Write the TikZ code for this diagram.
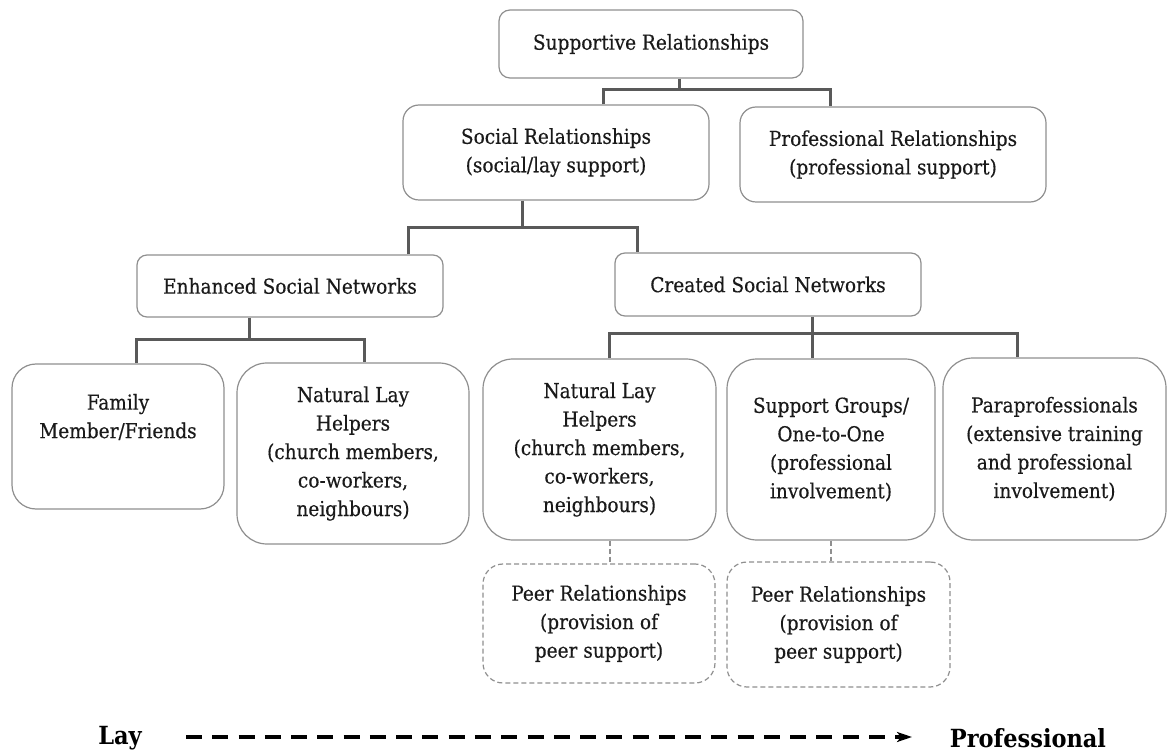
\documentclass[tikz,border=0pt]{standalone}
\usepackage{fontspec}
\newfontfamily\bodyfamily{DejaVu Serif Condensed}[FakeBold=0.35]
\newfontfamily\bottomfamily{DejaVu Serif Condensed Bold}
\usetikzlibrary{arrows.meta}
\definecolor{boxgray}{HTML}{8F8F8F}
\definecolor{conncol}{HTML}{595959}
\definecolor{txtcol}{HTML}{1A1A1A}
\newcommand\bodyfont{\bodyfamily\fontsize{20.6pt}{28.5pt}\selectfont}
\newcommand\bottomfont{\bottomfamily\fontsize{25pt}{28pt}\selectfont}
\begin{document}
\begin{tikzpicture}[x=1pt,y=-1pt,
  box/.style={draw=boxgray, line width=1.2pt, rounded corners=#1, inner sep=0pt, align=center, text=txtcol, font=\bodyfont},
  box/.default=12pt,
  dbox/.style={box=#1, dash pattern=on 5pt off 3pt},
  txt/.style={align=center, text=txtcol, font=\bodyfont, inner sep=0pt},
  conn/.style={draw=conncol, line width=3pt},
  dconn/.style={draw=boxgray, line width=1.2pt, dash pattern=on 5pt off 3pt},
  scale arrow/.style={black, line width=4pt, dash pattern=on 16pt off 10.27pt, -{Stealth[length=15pt,width=10pt,inset=4pt]}},
]
\useasboundingbox (0,0) rectangle (1168,751);

\node[box=11pt, minimum width=304pt, minimum height=68pt] (sup) at (651,44) {Supportive Relationships};
\node[box=16pt, minimum width=306pt, minimum height=95pt] (soc) at (556,152.5) {Social Relationships\\(social/lay support)};
\node[box=16pt, minimum width=306pt, minimum height=95pt] (pro) at (893,154.5) {Professional Relationships\\(professional support)};
\node[box=10pt, minimum width=306pt, minimum height=62pt] (enh) at (290,286) {Enhanced Social Networks};
\node[box=10pt, minimum width=306pt, minimum height=63pt] (cre) at (768,284.5) {Created Social Networks};
\node[box=24pt, minimum width=212pt, minimum height=145pt] (fam) at (118,436.5) {};
\node[txt] (famtxt) at (118,417) {Family\\Member/Friends};
\node[box=30pt, minimum width=232pt, minimum height=181pt] (nl1) at (353,453.5) {Natural Lay\\Helpers\\(church members,\\co-workers,\\neighbours)};
\node[box=30pt, minimum width=233pt, minimum height=181pt] (nl2) at (599.5,449.5) {Natural Lay\\Helpers\\(church members,\\co-workers,\\neighbours)};
\node[box=30pt, minimum width=208pt, minimum height=181pt] (sg) at (831,449.5) {Support Groups/\\One-to-One\\(professional\\involvement)};
\node[box=30pt, minimum width=223pt, minimum height=182pt] (para) at (1054.5,449) {Paraprofessionals\\(extensive training\\and professional\\involvement)};
\node[dbox=20pt, minimum width=232pt, minimum height=119pt] (peer1) at (599,623.5) {Peer Relationships\\(provision of\\peer support)};
\node[dbox=20pt, minimum width=223pt, minimum height=125pt] (peer2) at (838.5,624.5) {Peer Relationships\\(provision of\\peer support)};

% top level
\coordinate (j1) at ([xshift=28pt,yshift=-11pt]sup.south);
\draw[conn] ([xshift=28pt]sup.south) -- (j1);
\draw[conn] ([xshift=47pt]soc.north) |- (j1) -| ([xshift=-63pt]pro.north);
% social
\coordinate (j2) at ([xshift=-34pt,yshift=-27pt]soc.south);
\draw[conn] ([xshift=-34pt]soc.south) -- (j2);
\draw[conn] ([xshift=118pt]enh.north) |- (j2) -| ([xshift=-131pt]cre.north);
% enhanced
\coordinate (j3) at ([xshift=-41pt,yshift=-22pt]enh.south);
\draw[conn] ([xshift=-41pt]enh.south) -- (j3);
\draw[conn] ([xshift=18pt]fam.north) |- (j3) -| ([xshift=11pt]nl1.north);
% created
\coordinate (j4) at ([xshift=44pt,yshift=-17pt]cre.south);
\draw[conn] ([xshift=44pt]cre.south) -- ([xshift=-19pt]sg.north);
\draw[conn] ([xshift=9.5pt]nl2.north) |- (j4) -| ([xshift=-37.5pt]para.north);
% dashed
\draw[dconn] ([xshift=10.5pt]nl2.south) -- ([xshift=11pt]peer1.north);
\draw[dconn] (sg.south) -- ([xshift=-7.5pt]peer2.north);

% bottom scale
\node[font=\bottomfont, text=black, inner sep=0pt] (lay) at (120,738) {Lay};
\node[font=\bottomfont, text=black, inner sep=0pt] (prof) at (1028,738) {Professional};
\coordinate (ls) at (186,737);
\coordinate (le) at (912,737);
\draw[scale arrow] (ls) -- (le);
\end{tikzpicture}
\end{document}
